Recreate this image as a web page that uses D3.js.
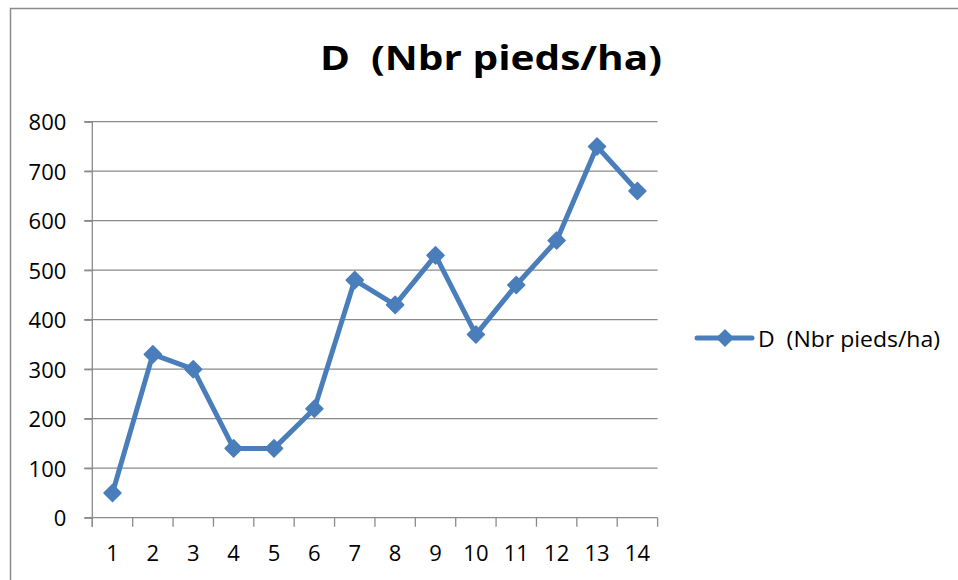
<!DOCTYPE html>
<html>
<head>
<meta charset="utf-8">
<script src="https://cdn.jsdelivr.net/npm/d3@7"></script>
<style>
  html, body { margin: 0; padding: 0; background: #fff; overflow: hidden; }
  svg { display: block; }
  text { font-family: "Open Sans", "Liberation Sans", sans-serif; fill: #000; white-space: pre; }
</style>
</head>
<body>
<svg id="chart" width="958" height="580"></svg>
<script>
// Plot data
const categories = [1, 2, 3, 4, 5, 6, 7, 8, 9, 10, 11, 12, 13, 14];
const densite = [50, 330, 300, 140, 140, 220, 480, 430, 530, 370, 470, 560, 750, 660];
const yTicks = [0, 100, 200, 300, 400, 500, 600, 700, 800];
const seriesName = "D  (Nbr pieds/ha)";
const titleText = "D  (Nbr pieds/ha)";

const svg = d3.select("#chart");
const blue = "#4A7EBB";
const gridColor = "#8a8a8a";
const labelSize = "22px";

// Chart frame
svg.append("rect")
  .attr("x", 10.5).attr("y", 8.5)
  .attr("width", 1000).attr("height", 700)
  .attr("fill", "#fff")
  .attr("stroke", "#8c8c8c").attr("stroke-width", 1.5);

const plot = { left: 92.3, right: 657.6, top: 121.7, bottom: 517.7 };

const x = d3.scaleBand().domain(categories).range([plot.left, plot.right]).padding(0);
const y = d3.scaleLinear().domain([0, 800]).range([plot.bottom, plot.top]);

// Horizontal gridlines
svg.append("g").selectAll("line").data(yTicks.filter(d => d > 0)).join("line")
  .attr("x1", plot.left - 8).attr("x2", plot.right)
  .attr("y1", d => y(d)).attr("y2", d => y(d))
  .attr("stroke", gridColor).attr("stroke-width", 1.3);

// Y axis
const yAxis = svg.append("g")
  .attr("transform", `translate(${plot.left},0)`)
  .call(d3.axisLeft(y).tickValues(yTicks).tickSize(8).tickPadding(18));
yAxis.attr("font-size", null).attr("font-family", null);
yAxis.select(".domain").attr("stroke", gridColor).attr("stroke-width", 1.3)
  .attr("d", `M0,${plot.top}V${plot.bottom + 9}`);
yAxis.selectAll(".tick line").attr("stroke", gridColor).attr("stroke-width", 1.3);
yAxis.selectAll(".tick text")
  .style("font-size", labelSize)
  .attr("fill", "#000").attr("dy", "0.36em");

// X axis: baseline, tick marks on category boundaries, labels at centres
const xg = svg.append("g");
xg.append("line")
  .attr("x1", plot.left - 8).attr("x2", plot.right)
  .attr("y1", plot.bottom).attr("y2", plot.bottom)
  .attr("stroke", gridColor).attr("stroke-width", 1.3);
const bounds = categories.map(c => x(c)).concat([x(categories[categories.length - 1]) + x.bandwidth()]);
xg.selectAll("line.tk").data(bounds).join("line").attr("class", "tk")
  .attr("x1", d => d).attr("x2", d => d)
  .attr("y1", plot.bottom).attr("y2", plot.bottom + 9)
  .attr("stroke", gridColor).attr("stroke-width", 1.3);
xg.selectAll("text").data(categories).join("text")
  .attr("x", d => x(d) + x.bandwidth() / 2)
  .attr("y", 561)
  .attr("text-anchor", "middle")
  .style("font-size", labelSize)
  .text(d => d);

// Series line
const cx = d => x(d) + x.bandwidth() / 2;
const line = d3.line().x((d, i) => cx(categories[i])).y(d => y(d));
svg.append("path").datum(densite)
  .attr("d", line)
  .attr("fill", "none").attr("stroke", blue)
  .attr("stroke-width", 5).attr("stroke-linejoin", "round");

// Diamond markers
const diamond = r => `M0,${-r}L${r},0L0,${r}L${-r},0Z`;
svg.append("g").selectAll("path").data(densite).join("path")
  .attr("transform", (d, i) => `translate(${cx(categories[i])},${y(d)})`)
  .attr("d", diamond(8.5))
  .attr("fill", blue).attr("stroke", blue).attr("stroke-width", 1.5)
  .attr("stroke-linejoin", "round");

// Title
svg.append("text")
  .attr("x", 491).attr("y", 70)
  .attr("text-anchor", "middle")
  .style("font-size", "34px").style("font-weight", "bold")
  .attr("textLength", 342).attr("lengthAdjust", "spacingAndGlyphs")
  .text(titleText);

// Legend
const lg = svg.append("g").attr("transform", "translate(0,338)");
lg.append("line").attr("x1", 697).attr("x2", 752).attr("y1", 0).attr("y2", 0)
  .attr("stroke", blue).attr("stroke-width", 5).attr("stroke-linecap", "round");
lg.append("path").attr("transform", "translate(725,0)").attr("d", diamond(8))
  .attr("fill", blue).attr("stroke", blue).attr("stroke-width", 1.5).attr("stroke-linejoin", "round");
lg.append("text").attr("x", 758).attr("y", 9)
  .style("font-size", labelSize)
  .attr("textLength", 182).attr("lengthAdjust", "spacingAndGlyphs")
  .text(seriesName);
</script>
</body>
</html>
